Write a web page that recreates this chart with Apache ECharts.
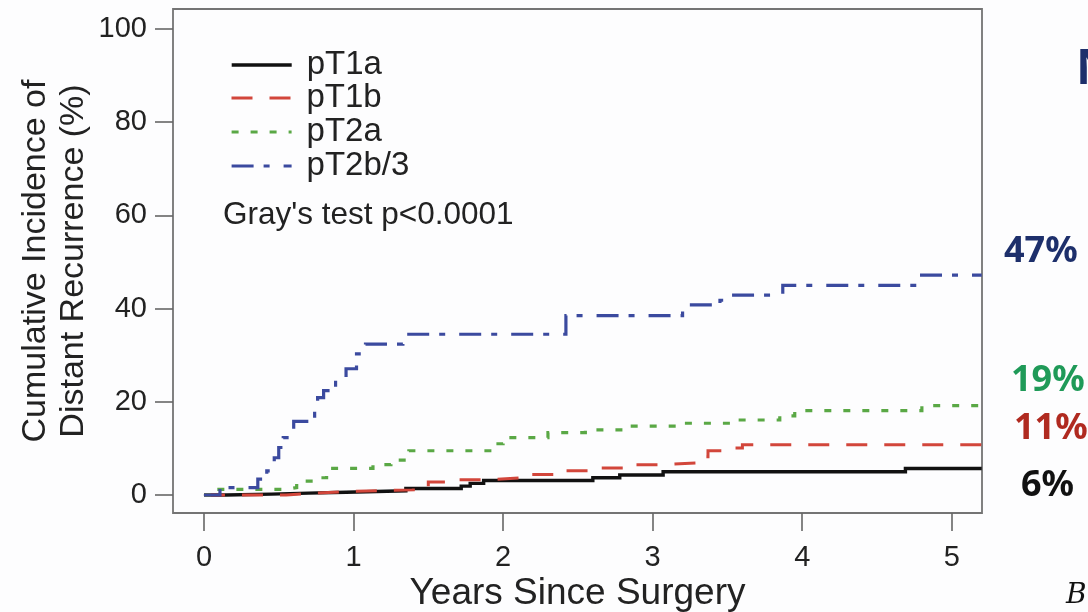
<!DOCTYPE html>
<html>
<head>
<meta charset="utf-8">
<script src="https://cdn.jsdelivr.net/npm/echarts@6/dist/echarts.min.js"></script>
<style>
  html, body { margin: 0; padding: 0; background: #fdfdfe; }
  #chart { width: 1088px; height: 612px; }
</style>
</head>
<body>
<div id="chart"></div>
<script>
// Cumulative incidence of distant recurrence by pathologic T stage (step curves)
const seriesNames = ['pT1a', 'pT1b', 'pT2a', 'pT2b/3'];

const yearsT1a = [0, 0.15, 0.45, 0.70, 0.95, 1.35, 1.72, 1.78, 1.87, 2.60, 2.78, 3.07, 4.69, 5.2];
const ciT1a    = [0, 0.2, 0.4, 0.6, 0.9, 1.4, 1.9, 2.5, 3.1, 3.7, 4.3, 5.0, 5.7, 5.7];

const yearsT1b = [0, 0.55, 0.75, 1.0, 1.40, 1.50, 1.70, 1.93, 2.13, 2.35, 2.58, 2.83, 3.05, 3.32, 3.37, 3.50, 3.60, 5.2];
const ciT1b    = [0, 0.4, 0.8, 1.1, 1.8, 2.8, 3.3, 3.7, 4.4, 5.2, 5.8, 6.5, 6.9, 8.2, 9.5, 10.1, 10.8, 10.8];

const yearsT2a = [0, 0.10, 0.55, 0.62, 0.68, 0.76, 0.82, 1.13, 1.25, 1.37, 1.95, 2.0, 2.3, 2.55, 2.8, 3.17, 3.53, 3.85, 3.95, 4.80, 5.2];
const ciT2a    = [0, 1.2, 1.6, 2.4, 3.0, 3.7, 5.7, 6.5, 7.5, 9.5, 11.0, 12.3, 13.4, 14.0, 14.8, 15.4, 16.1, 17.0, 18.1, 19.2, 19.2];

const yearsT2b3 = [0, 0.107, 0.36, 0.42, 0.47, 0.50, 0.53, 0.60, 0.74, 0.76, 0.80, 0.88, 0.95, 1.02, 1.08, 1.33, 2.42, 3.20, 3.45, 3.50, 3.87, 4.78, 5.2];
const ciT2b3    = [0, 1.6, 3.4, 5.2, 8.0, 10.2, 12.3, 15.8, 18.0, 20.9, 22.4, 25.0, 27.1, 30.3, 32.4, 34.5, 38.5, 40.8, 41.8, 42.9, 45.0, 47.2, 47.2];

const xTicks = [0, 1, 2, 3, 4, 5];
const yTicks = [0, 20, 40, 60, 80, 100];

const axisFont = 'Liberation Sans, Arial, Helvetica, sans-serif';
const textColor = '#222';

const lineColors = ['#111111', '#d2463b', '#5aa845', '#3b4a9f'];
const lineDashes = ['solid', [21, 17], [7, 12], [22, 10, 6, 14]];
const lineWidths = [3.4, 3, 3.2, 3.2];

const curveYears = [yearsT1a, yearsT1b, yearsT2a, yearsT2b3];
const curveCI = [ciT1a, ciT1b, ciT2a, ciT2b3];

const series = seriesNames.map((name, i) => ({
  name,
  type: 'line',
  step: 'end',
  symbol: 'none',
  silent: true,
  data: curveYears[i].map((t, k) => [t, curveCI[i][k]]),
  lineStyle: { color: lineColors[i], width: lineWidths[i], type: lineDashes[i], cap: 'butt', join: 'miter' },
  itemStyle: { color: lineColors[i] },
  emphasis: { disabled: true },
  z: 2 + i
}));

// Separate legend blocks so each row sits at its own height
const legendRowCenters = [65, 98, 132, 166];
const legends = seriesNames.map((name, i) => ({
  data: [name],
  left: 230,
  top: legendRowCenters[i] - 17,
  padding: 0,
  itemWidth: 60,
  itemHeight: 14,
  selectedMode: false,
  itemStyle: { color: 'transparent', borderWidth: 0, opacity: 0 },
  lineStyle: { width: lineWidths[i] },
  textStyle: { fontFamily: axisFont, fontSize: 33, color: textColor, lineHeight: 34, padding: [0, 0, 0, 10] }
}));

// End-of-follow-up percentages shown to the right of the plot
const lastOf = arr => arr[arr.length - 1];
const endLabels = [
  { value: lastOf(ciT2b3), color: '#1d2f6b', x: 1004, y: 252 },
  { value: lastOf(ciT2a), color: '#1f9a58', x: 1011, y: 381 },
  { value: lastOf(ciT1b), color: '#b02a20', x: 1014, y: 429 },
  { value: lastOf(ciT1a), color: '#111111', x: 1021, y: 486 }
];

const graphics = [
  {
    type: 'text', left: 223, top: 199, silent: true,
    style: { text: "Gray's test p<0.0001", font: '31.5px ' + axisFont, fill: textColor }
  },
  ...endLabels.map(l => ({
    type: 'text', x: l.x, y: l.y, silent: true,
    style: {
      text: Math.round(l.value) + '%', fill: l.color,
      font: 'bold 36px "Noto Sans", "Open Sans", sans-serif',
      verticalAlign: 'middle', align: 'left'
    }
  })),
  {
    type: 'text', x: 1076, y: 70, silent: true,
    style: { text: 'N', fill: '#1d2f6b', font: 'bold 48px "Noto Sans", sans-serif', verticalAlign: 'middle' }
  },
  {
    type: 'text', x: 1066, y: 596, silent: true,
    style: { text: 'B', fill: '#111', font: 'italic 28px "DejaVu Serif", serif', verticalAlign: 'middle' }
  }
];

const chart = echarts.init(document.getElementById('chart'), null, { renderer: 'canvas' });
chart.setOption({
  animation: false,
  backgroundColor: '#fdfdfe',
  grid: {
    left: 173, right: 106, top: 9, bottom: 99,
    containLabel: false,
    outerBoundsMode: 'none',
    show: true, borderColor: '#747474', borderWidth: 1.8, backgroundColor: 'transparent'
  },
  legend: legends,
  xAxis: {
    type: 'value',
    min: -0.207, max: 5.202,
    axisLine: { show: false, onZero: false },
    splitLine: { show: false },
    axisTick: { show: true, inside: false, customValues: xTicks, length: 18, lineStyle: { color: '#666', width: 1.6 } },
    axisLabel: { customValues: xTicks, fontFamily: axisFont, fontSize: 29, color: textColor, margin: 30 },
    name: 'Years Since Surgery',
    nameLocation: 'middle',
    nameGap: 62,
    nameMoveOverlap: false,
    nameTextStyle: { fontFamily: axisFont, fontSize: 37, color: textColor }
  },
  yAxis: {
    type: 'value',
    min: -3.86, max: 104.3,
    axisLine: { show: false, onZero: false },
    splitLine: { show: false },
    axisTick: { show: true, inside: false, customValues: yTicks, length: 18, lineStyle: { color: '#666', width: 1.6 } },
    axisLabel: { customValues: yTicks, fontFamily: axisFont, fontSize: 29, color: textColor, margin: 26 },
    name: 'Cumulative Incidence of\nDistant Recurrence (%)',
    nameLocation: 'middle',
    nameGap: 80,
    nameMoveOverlap: false,
    nameTextStyle: { fontFamily: axisFont, fontSize: 34, color: textColor, lineHeight: 38 }
  },
  series,
  graphic: graphics
});
</script>
</body>
</html>
